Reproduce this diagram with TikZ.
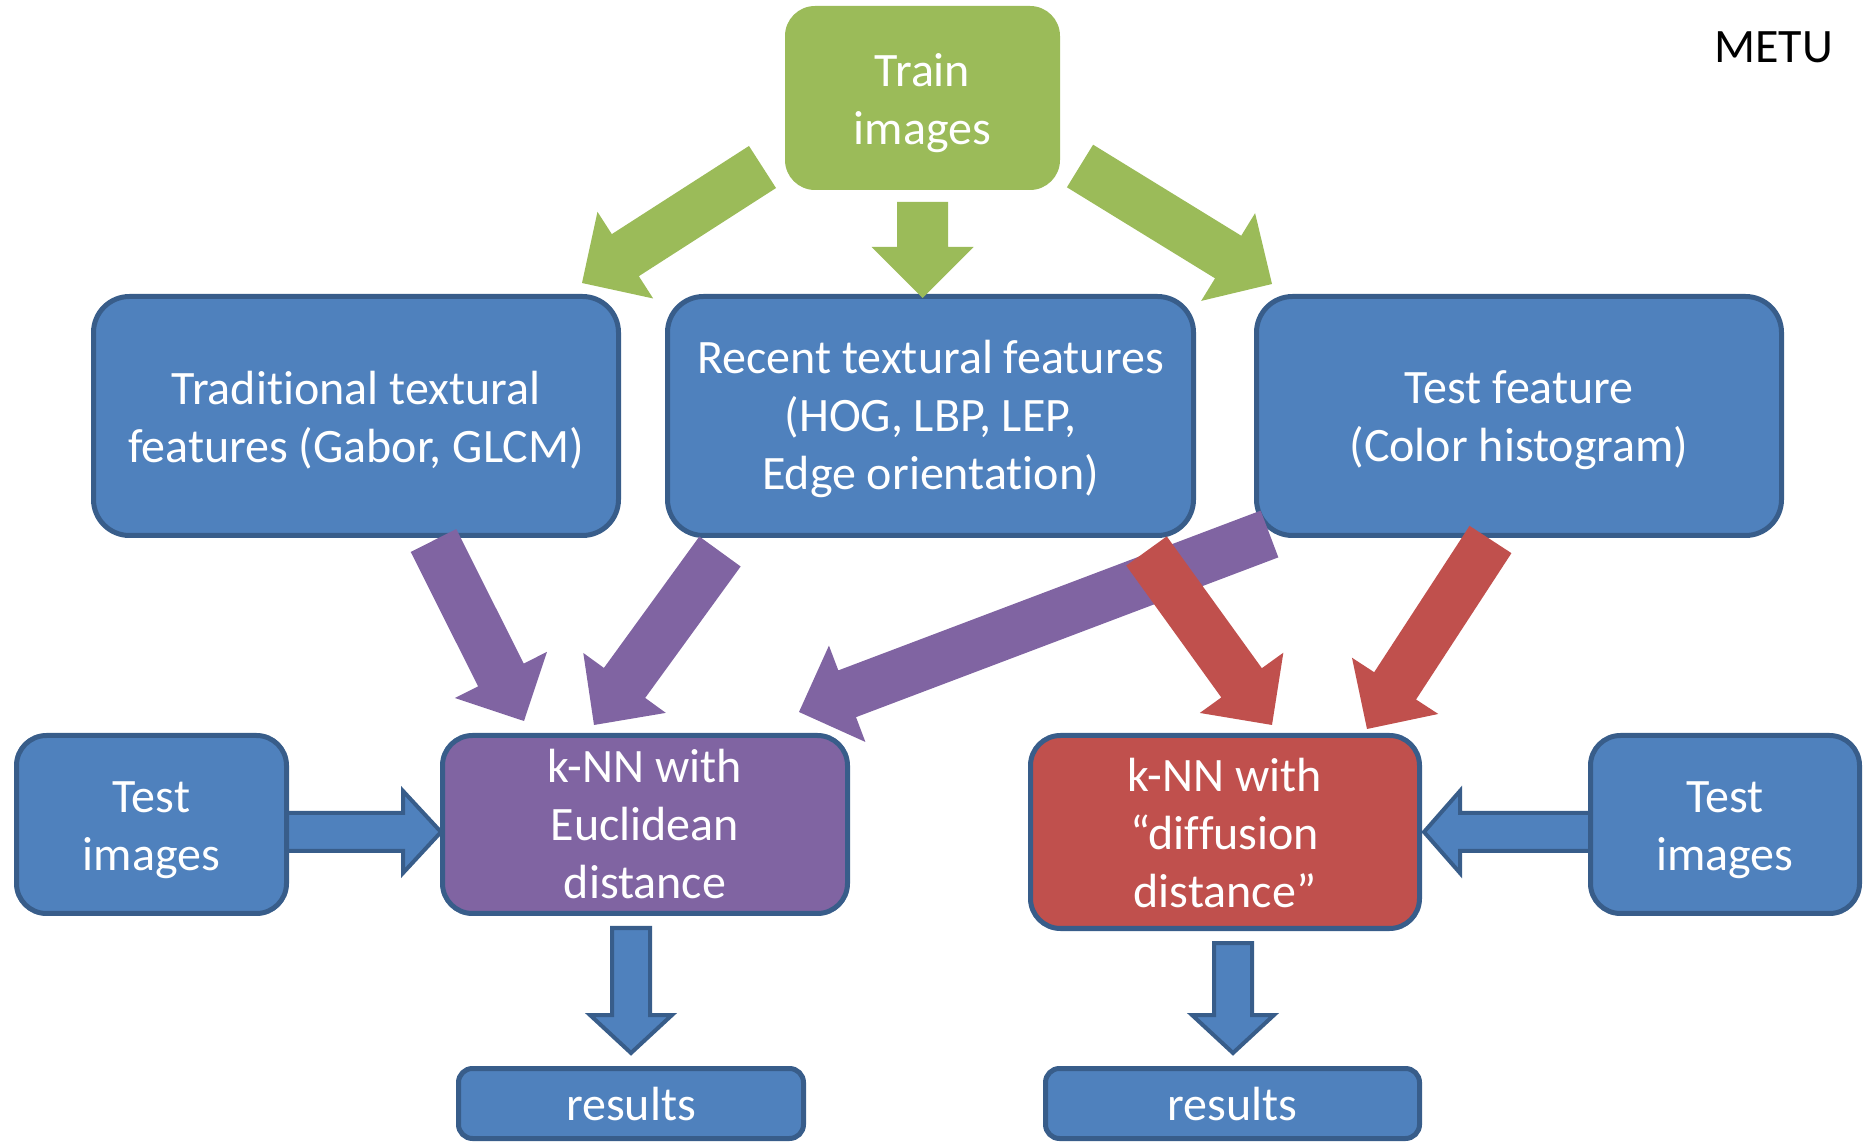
\documentclass[tikz,border=0pt]{standalone}
\usepackage{fontspec}
\setmainfont{Carlito}[Ligatures={NoCommon}]
\usetikzlibrary{calc}
\definecolor{grn}{HTML}{9BBB59}
\definecolor{blu}{HTML}{4F81BD}
\definecolor{bluedge}{HTML}{385D8A}
\definecolor{pur}{HTML}{8064A2}
\definecolor{rd}{HTML}{C0504D}
\newcommand\boxfont{\fontsize{24pt}{29pt}\selectfont}
% block arrow: [style]{tail}{tip}{half shaft width}{half head width}{head length}
\newcommand\blockarrow[6][]{%
  \coordinate (bk) at ($(#3)!#6!(#2)$);
  \path[#1] ($(#2)!#4!90:(#3)$) -- ($(bk)!#4!90:(#3)$) -- ($(bk)!#5!90:(#3)$) -- (#3)
     -- ($(bk)!#5!-90:(#3)$) -- ($(bk)!#4!-90:(#3)$) -- ($(#2)!#4!-90:(#3)$) -- cycle;
}
% white label set on the centre of a box: {box name}{vertical shift}{text}
\newcommand\boxtext[3]{\node[boxlabel] (#1-text) at ([yshift=#2]#1.center) {#3};}
\tikzset{
  box/.style={rounded corners=#1, inner sep=0pt},
  box/.default=18pt,
  bluebox/.style={box=#1, fill=blu, draw=bluedge, line width=2.5pt},
  bluebox/.default=18pt,
  boxlabel/.style={text=white, align=center, font=\boxfont, inner sep=0pt},
  greenarrow/.style={fill=grn},
  purplearrow/.style={fill=pur},
  redarrow/.style={fill=rd},
  bluearrow/.style={fill=blu, draw=bluedge, line width=2pt, line join=miter},
}
\begin{document}
\begin{tikzpicture}[x=0.5pt, y=-0.5pt]
\useasboundingbox (0,0) rectangle (1864,1143);

% connector end points
\coordinate (tlR) at (280,832);   \coordinate (tlT) at (441,832);
\coordinate (trR) at (1596,832);  \coordinate (trT) at (1424,832);
\coordinate (deS) at (631,928);   \coordinate (deT) at (631,1053);
\coordinate (ddS) at (1233,943);  \coordinate (ddT) at (1233,1053);

\coordinate (g1S) at (762.5,167); \coordinate (g1T) at (582,283);
\coordinate (g2S) at (922.5,202); \coordinate (g2T) at (922.5,298);
\coordinate (g3S) at (1080,166);  \coordinate (g3T) at (1272,284);

\coordinate (p1S) at (433.5,540.5); \coordinate (p1T) at (524,721);
\coordinate (p2S) at (720,551.5);   \coordinate (p2T) at (594,725);
\coordinate (p3S) at (1269.5,534);  \coordinate (p3T) at (799,712);
\coordinate (r1S) at (1146.5,551);  \coordinate (r1T) at (1272,725);
\coordinate (r2S) at (1490.5,539.5);\coordinate (r2T) at (1367,729);

% blue arrows sit behind the boxes
\blockarrow[bluearrow]{tlR}{tlT}{9.5pt}{20.5pt}{19pt}
\blockarrow[bluearrow]{trR}{trT}{9.5pt}{20.5pt}{18pt}
\blockarrow[bluearrow]{deS}{deT}{9.5pt}{20.5pt}{19pt}
\blockarrow[bluearrow]{ddS}{ddT}{9.5pt}{20.5pt}{19pt}

% boxes
\node[box=15pt, fill=grn, minimum width=137.5pt, minimum height=92pt] (train) at (922.5,98) {};
\node[bluebox, minimum width=262.5pt, minimum height=119.5pt] (trad) at (356,416) {};
\node[bluebox, minimum width=263pt, minimum height=119.5pt] (recent) at (930.5,416) {};
\node[bluebox, minimum width=262.5pt, minimum height=119.5pt] (testfeat) at (1519,416) {};
\node[bluebox=15pt, minimum width=135pt, minimum height=89pt] (testL) at (151.5,824.5) {};
\node[bluebox=15pt, fill=pur, minimum width=202.5pt, minimum height=89pt] (knnE) at (645,824.5) {};
\node[bluebox=15pt, fill=rd, minimum width=194.5pt, minimum height=96.5pt] (knnD) at (1225,832) {};
\node[bluebox=15pt, minimum width=134.5pt, minimum height=89pt] (testR) at (1725,824.5) {};
\node[bluebox=7pt, minimum width=172.5pt, minimum height=35pt] (resE) at (631,1103.5) {};
\node[bluebox=7pt, minimum width=187pt, minimum height=35pt] (resD) at (1232.5,1103.5) {};

% box texts
\boxtext{train}{-2.5pt}{Train\\images}
\boxtext{trad}{-2pt}{Traditional textural\\features (Gabor, GLCM)}
\boxtext{recent}{-1.5pt}{Recent textural features\\(HOG, LBP, LEP,\\Edge orientation)}
\boxtext{testfeat}{-2pt}{Test feature\\(Color histogram)}
\boxtext{testL}{-3pt}{Test\\images}
\boxtext{knnE}{0pt}{k-NN with\\Euclidean\\distance}
\boxtext{knnD}{-0.5pt}{k-NN with\\“diffusion\\distance”}
\boxtext{testR}{-3pt}{Test\\images}
\boxtext{resE}{-0.5pt}{results}
\boxtext{resD}{-0.5pt}{results}

\node[anchor=base west, inner sep=0pt, font=\fontsize{24pt}{29pt}\selectfont] (metu) at (1714,63) {METU};

% coloured arrows drawn over the boxes
\blockarrow[greenarrow]{g1S}{g1T}{12.5pt}{25.75pt}{25.75pt}
\blockarrow[greenarrow]{g2S}{g2T}{12.75pt}{25.5pt}{25.5pt}
\blockarrow[greenarrow]{g3S}{g3T}{12.5pt}{25.75pt}{25.75pt}
\blockarrow[purplearrow]{p1S}{p1T}{12.75pt}{25.75pt}{25.75pt}
\blockarrow[purplearrow]{p2S}{p2T}{12.75pt}{25.5pt}{26pt}
\blockarrow[purplearrow]{p3S}{p3T}{12.5pt}{25.75pt}{25.75pt}
\blockarrow[redarrow]{r1S}{r1T}{12.5pt}{25.75pt}{26pt}
\blockarrow[redarrow]{r2S}{r2T}{12.5pt}{25.75pt}{25.75pt}
\end{tikzpicture}
\end{document}
